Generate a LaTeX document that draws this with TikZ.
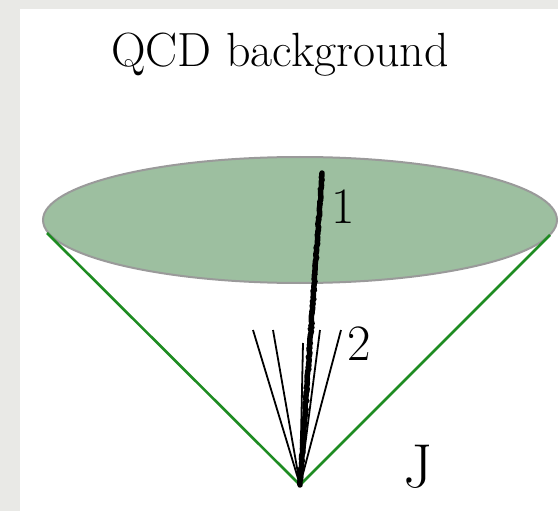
\documentclass[tikz,border=0pt]{standalone}
\usetikzlibrary{shapes.geometric,decorations.pathmorphing}
\definecolor{bggray}{HTML}{E9E9E6}
\definecolor{discgreen}{HTML}{9DBFA0}
\definecolor{rimgray}{HTML}{9A9A9A}
\definecolor{conegreen}{HTML}{1E8C22}
\tikzset{
  disc/.style={ellipse, draw=rimgray, line width=2pt, fill=discgreen, minimum width=514pt, minimum height=126pt, inner sep=0pt},
  coneline/.style={draw=conegreen, line width=2.6pt},
  thinray/.style={draw=black, line width=1.8pt},
  thickray/.style={draw=black, line width=5.5pt, line cap=round, decorate, decoration={random steps, segment length=2pt, amplitude=0.6pt}},
  lbl/.style={inner sep=0pt, anchor=base},
}
\begin{document}
\begin{tikzpicture}[x=1pt,y=-1pt]
\useasboundingbox (0,0) rectangle (558,511);
\fill[bggray] (0,0) rectangle (558,511);
\fill[white] (20,9) rectangle (558,511);
\node[lbl, font=\fontsize{48}{56}\selectfont] (title) at (280,67) {QCD background};
\node[disc] (disc) at (300,220) {};
\coordinate (apex) at (300,485);
\coordinate (cl) at (47,233);
\coordinate (cr) at (550,235);
\draw[coneline] (cl) -- (apex) -- (cr);
\coordinate (t1) at (253,330);
\coordinate (t2) at (273,330);
\coordinate (t3) at (303,343);
\coordinate (t4) at (320,330);
\coordinate (t5) at (341,330);
\foreach \t in {t1,t2,t3,t4,t5} \draw[thinray] (apex) -- (\t);
\coordinate (top) at (322,173);
\draw[thickray] (apex) -- (top);
\node[lbl, font=\fontsize{51}{58}\selectfont] (one) at (343,223) {1};
\node[lbl, font=\fontsize{51}{58}\selectfont] (two) at (359,360) {2};
\node[lbl, font=\fontsize{62}{70}\selectfont] (jet) at (418,487) {J};
\end{tikzpicture}
\end{document}
